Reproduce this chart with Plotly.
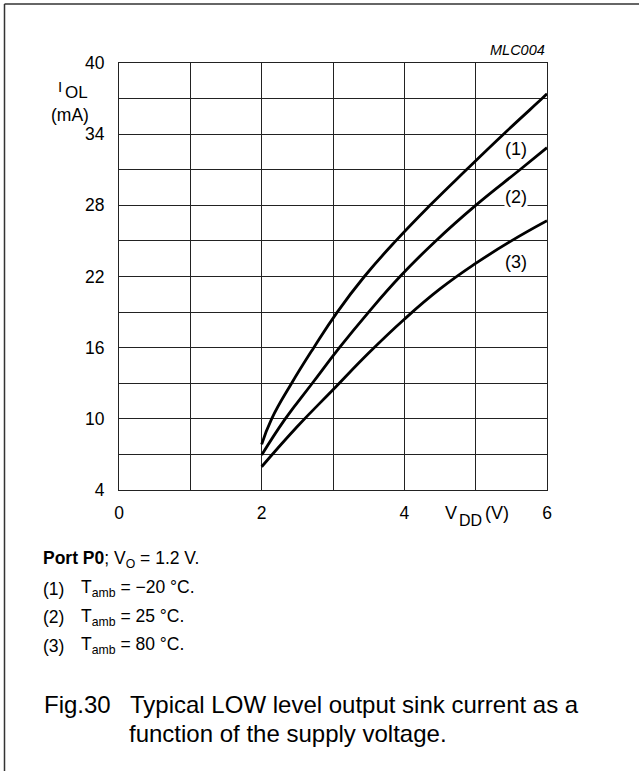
import plotly.graph_objects as go

# ---- data ----
vdd_m20 = [2.0, 2.14, 2.42, 2.73, 3.06, 3.44, 3.88, 4.36, 4.87, 5.39, 5.93, 6.0]
iol_m20 = [7.85, 10, 13, 16, 19, 22, 25, 28, 31, 34, 37, 37.4]

vdd_25 = [2.0, 2.33, 2.71, 3.09, 3.50, 3.94, 4.44, 5.0, 5.62, 6.0]
iol_25 = [6.95, 10, 13, 16, 19, 22, 25, 28, 31, 32.86]

vdd_80 = [2.0, 2.5, 3.0, 3.5, 4.0, 4.5, 5.0, 5.5, 6.0]
iol_80 = [5.96, 9.35, 12.45, 15.55, 18.4, 20.95, 23.1, 25.0, 26.7]

curve_labels = ["(1)", "(2)", "(3)"]
label_x = [5.56, 5.56, 5.56]
label_y = [32.75, 28.7, 23.25]

x_tickvals = [0, 1, 2, 3, 4, 5, 6]
x_ticktext = ["0", "", "2", "", "4", "", "6"]
y_tickvals = [4, 7, 10, 13, 16, 19, 22, 25, 28, 31, 34, 37, 40]
y_ticktext = ["4", "", "10", "", "16", "", "22", "", "28", "", "34", "", "40"]

# ---- layout geometry (pixels) ----
W, H = 639, 771
L, R, T, B = 119, 547, 63, 490
PW, PH = R - L, B - T

def px(x):
    return (x - L) / PW

def py(y):
    return (B - y) / PH

FONT = "Liberation Sans, Arial, sans-serif"

fig = go.Figure()
for xs, ys in [(vdd_m20, iol_m20), (vdd_25, iol_25), (vdd_80, iol_80)]:
    fig.add_trace(go.Scatter(x=xs, y=ys, mode="lines",
                             line=dict(color="black", width=2.8, shape="spline", smoothing=1.3),
                             showlegend=False, hoverinfo="skip"))

grid = "#222222"
fig.update_layout(
    width=W, height=H,
    margin=dict(l=L, r=W - R, t=T, b=H - B, pad=0),
    paper_bgcolor="white", plot_bgcolor="white",
    font=dict(family=FONT, color="black", size=17),
    xaxis=dict(range=[0, 6], tickvals=x_tickvals, ticktext=x_ticktext,
               showgrid=True, gridcolor=grid, gridwidth=1, zeroline=False,
               showline=True, linecolor=grid, linewidth=1, mirror=True,
               ticks="", ticklabelstandoff=7, tickfont=dict(size=17.5)),
    yaxis=dict(range=[4, 40], tickvals=y_tickvals, ticktext=y_ticktext,
               showgrid=True, gridcolor=grid, gridwidth=1, zeroline=False,
               showline=True, linecolor=grid, linewidth=1, mirror=True,
               ticks="", ticklabelstandoff=10, tickfont=dict(size=17.5)),
)

ann = []
for t, xx, yy in zip(curve_labels, label_x, label_y):
    ann.append(dict(x=xx, y=yy, xref="x", yref="y", text=t, showarrow=False,
                    font=dict(size=18), bgcolor="white", borderpad=0,
                    xanchor="center", yanchor="middle"))

def txt(x, y, text, size=17, xanchor="left", yanchor="middle", **kw):
    ann.append(dict(x=px(x), y=py(y), xref="paper", yref="paper", text=text,
                    showarrow=False, font=dict(size=size, **kw),
                    xanchor=xanchor, yanchor=yanchor, align="left"))

# axis titles
txt(55.5, 87, "I", size=15)
txt(62.5, 93, "OL", size=17)
txt(49, 115, "(mA)", size=17.5)
txt(442.5, 512.5, "V", size=18)
txt(456.5, 520, "DD", size=16)
txt(482.5, 513, "(V)", size=18)
txt(546.5, 50, "<i>MLC004</i>", size=14.5, xanchor="right")

# notes
txt(41, 559.5, "<b>Port P0</b>; V<sub>O</sub> = 1.2 V.", size=17.5)
for lab, rest, yy in [("(1)", "T<sub>amb</sub> = \u221220 \u00b0C.", 588.5),
                      ("(2)", "T<sub>amb</sub> = 25 \u00b0C.", 617),
                      ("(3)", "T<sub>amb</sub> = 80 \u00b0C.", 645.5)]:
    txt(41, yy, lab, size=17.5)
    txt(79, yy, rest, size=17.5)

# caption
txt(42, 704, "Fig.30", size=24)
txt(127.5, 704, "Typical LOW level output sink current as a", size=24)
txt(127, 733.5, "function of the supply voltage.", size=24)

fig.update_layout(annotations=ann)

# page frame (top and left edges)
fig.add_shape(type="line", xref="paper", yref="paper",
              x0=px(4.5), x1=px(W + 5), y0=py(4), y1=py(4),
              line=dict(color="#333333", width=1.5))
fig.add_shape(type="line", xref="paper", yref="paper",
              x0=px(4.5), x1=px(4.5), y0=py(4), y1=py(H + 5),
              line=dict(color="#333333", width=1.5))

fig.write_html("out.html", config={"displayModeBar": False},
               post_script="document.body.style.margin='0px';document.body.style.padding='0px';")
